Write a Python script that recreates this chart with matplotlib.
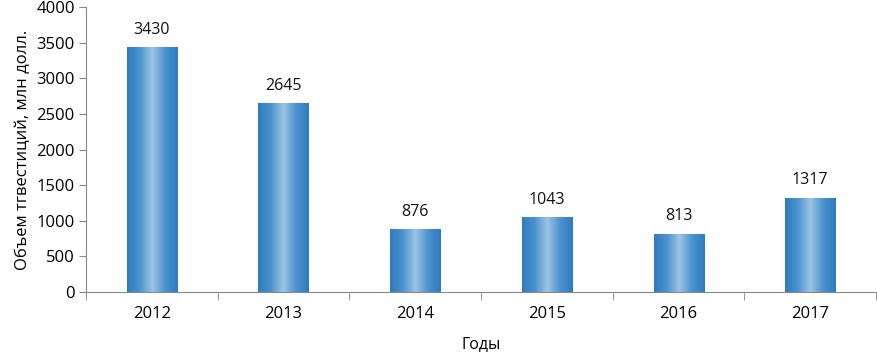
import numpy as np
import matplotlib.pyplot as plt
from matplotlib.colors import LinearSegmentedColormap

years = ["2012", "2013", "2014", "2015", "2016", "2017"]
values = [3430, 2645, 876, 1043, 813, 1317]
yticks = [0, 500, 1000, 1500, 2000, 2500, 3000, 3500, 4000]

plt.rcParams['font.family'] = ['Open Sans', 'DejaVu Sans']

fig = plt.figure(figsize=(8.77, 3.54), dpi=100)
ax = fig.add_axes([0.098, 0.175, 0.901, 0.805])

x = np.arange(len(years))
bars = ax.bar(x, values, width=0.38, color="none", edgecolor="none", zorder=2)

# cylinder-like gradient: darker edges, lighter middle
cmap = LinearSegmentedColormap.from_list("cyl", ["#2f7bbd", "#4a93cf", "#9cc4e2", "#4a93cf", "#2f7bbd"])
grad = np.linspace(0, 1, 200).reshape(1, -1)
for b in bars:
    x0, w, h = b.get_x(), b.get_width(), b.get_height()
    ax.imshow(grad, cmap=cmap, aspect="auto", extent=(x0, x0 + w, 0, h), zorder=2)
    ax.text(x0 + w / 2, h + 140, f"{h:.0f}", ha="center", va="bottom", fontsize=11.5, color="#111111")

ax.set_xlim(-0.5, len(years) - 0.5)
ax.set_ylim(0, 4000)
ax.set_yticks(yticks)
ax.set_xticks(x)
ax.set_xticklabels(years)
ax.set_xticks(np.arange(-0.5, len(years)), minor=True)
ax.tick_params(axis="x", which="major", length=0, pad=10, labelsize=12)
ax.tick_params(axis="x", which="minor", length=6, color="#888888", direction="out")
ax.tick_params(axis="y", length=5, color="#888888", direction="out", labelsize=12, pad=3)

for s in ["top", "right"]:
    ax.spines[s].set_visible(False)
for s in ["left", "bottom"]:
    ax.spines[s].set_color("#888888")

ax.set_ylabel("Объем тгвестиций, млн долл.", fontsize=12, labelpad=4)
ax.set_xlabel("Годы", fontsize=11.5, labelpad=10)

fig.savefig("out.png", dpi=100)
